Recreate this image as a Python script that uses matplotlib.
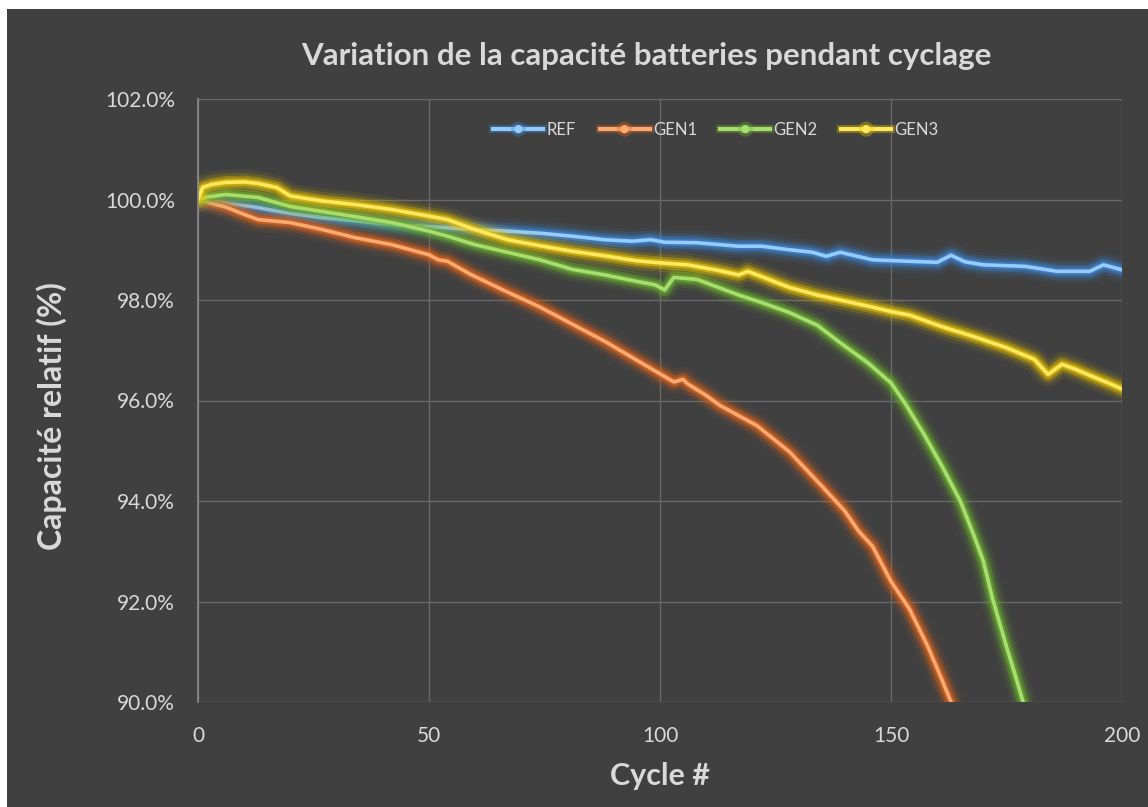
import matplotlib
matplotlib.use('Agg')
import matplotlib.pyplot as plt
import matplotlib.patheffects as pe
from matplotlib.lines import Line2D
from matplotlib.patches import Rectangle

# données (cycle, capacité relative en %)
cyc_ref = [0, 3, 6, 13, 20, 27, 35, 42, 50, 60, 67, 74, 81, 88, 94, 98, 101, 108, 117,
           122, 128, 133, 136, 139, 146, 154, 160, 163, 166, 170, 179, 186, 193, 196, 200]
ref = [100.0, 99.97, 99.93, 99.84, 99.72, 99.64, 99.57, 99.5, 99.46, 99.4, 99.37, 99.33,
       99.27, 99.2, 99.17, 99.2, 99.15, 99.14, 99.07, 99.07, 99.0, 98.95, 98.87, 98.95,
       98.8, 98.77, 98.75, 98.89, 98.76, 98.7, 98.67, 98.57, 98.57, 98.7, 98.6]

cyc_gen1 = [0, 3, 6, 9, 13, 20, 27, 34, 42, 50, 52, 54, 59, 66, 74, 81, 88, 95, 103, 105,
            106, 110, 113, 121, 128, 135, 140, 143, 146, 150, 154, 158, 161, 163]
gen1 = [100.0, 99.92, 99.85, 99.74, 99.6, 99.54, 99.4, 99.24, 99.1, 98.9, 98.8, 98.77,
        98.51, 98.2, 97.86, 97.52, 97.18, 96.8, 96.37, 96.42, 96.33, 96.1, 95.9, 95.5,
        94.98, 94.3, 93.8, 93.4, 93.1, 92.4, 91.85, 91.1, 90.45, 90.0]

cyc_gen2 = [0, 2, 6, 13, 20, 27, 34, 42, 50, 54, 60, 67, 74, 81, 88, 95, 99, 101, 103,
            108, 117, 122, 128, 134, 139, 145, 150, 153, 157, 161, 165, 168, 170, 172,
            175, 177, 178.6]
gen2 = [100.0, 100.05, 100.1, 100.04, 99.86, 99.76, 99.66, 99.54, 99.37, 99.27, 99.1,
        98.95, 98.8, 98.61, 98.5, 98.37, 98.3, 98.2, 98.45, 98.41, 98.1, 97.95, 97.75,
        97.5, 97.15, 96.75, 96.35, 95.95, 95.35, 94.7, 94.0, 93.3, 92.8, 92.05, 91.1,
        90.5, 90.0]

cyc_gen3 = [0, 1, 3, 6, 10, 13, 17, 20, 27, 34, 42, 50, 54, 60, 67, 74, 81, 88, 95, 100,
            106, 112, 117, 119, 121, 128, 134, 139, 145, 150, 154, 161, 168, 175, 181,
            184, 187, 190, 193, 197, 200]
gen3 = [100.0, 100.24, 100.3, 100.34, 100.35, 100.32, 100.24, 100.07, 99.97, 99.9, 99.8,
        99.67, 99.6, 99.4, 99.2, 99.08, 98.97, 98.88, 98.78, 98.74, 98.7, 98.6, 98.5,
        98.57, 98.5, 98.25, 98.1, 98.0, 97.88, 97.77, 97.7, 97.47, 97.27, 97.05, 96.82,
        96.52, 96.72, 96.62, 96.5, 96.35, 96.23]

series_names = ['REF', 'GEN1', 'GEN2', 'GEN3']
x_ticks = [0, 50, 100, 150, 200]
y_ticks = [90, 92, 94, 96, 98, 100, 102]

BG = '#404040'
TXT = '#d9d9d9'
# couleur du trait / couleur du halo
COLORS = [('#94ccff', '#3d86d6'), ('#f9aa72', '#e0641c'),
          ('#a8de70', '#6cb030'), ('#ffe860', '#e8c400')]


def glow(halo):
    # halo doux autour du trait
    return [pe.Stroke(linewidth=18, foreground=halo, alpha=0.08),
            pe.Stroke(linewidth=13, foreground=halo, alpha=0.16),
            pe.Stroke(linewidth=9, foreground=halo, alpha=0.35),
            pe.Stroke(linewidth=5.5, foreground=halo, alpha=0.6),
            pe.Normal()]


def plot_f():
    plt.rcParams['font.family'] = ['Lato', 'DejaVu Sans']
    fig = plt.figure(figsize=(11.48, 8.07), dpi=100, facecolor='white')
    # fond sombre (bord blanc en haut et à gauche)
    fig.patches.append(Rectangle((7 / 1148, 0), 1141 / 1148, 1 - 9 / 807,
                                 transform=fig.transFigure, facecolor=BG,
                                 edgecolor='none', zorder=-10))

    ax = fig.add_axes([198 / 1148, 1 - 702 / 807, 924 / 1148, 603 / 807])
    ax.set_facecolor('none')

    data = [(cyc_ref, ref), (cyc_gen1, gen1), (cyc_gen2, gen2), (cyc_gen3, gen3)]
    for (x, y), name, (col, halo) in zip(data, series_names, COLORS):
        ax.plot(x, y, color=col, lw=2.6, solid_joinstyle='round', solid_capstyle='round',
                path_effects=glow(halo), label=name)

    ax.set_xlim(0, 200)
    ax.set_ylim(90, 102)
    ax.set_xticks(x_ticks)
    ax.set_yticks(y_ticks)
    ax.set_yticklabels(['%.1f%%' % v for v in y_ticks])
    ax.tick_params(length=0, colors=TXT, labelsize=15)
    ax.tick_params(axis='y', pad=16.5)
    ax.tick_params(axis='x', pad=17)
    ax.grid(True, color='#686868', lw=1)
    for s in ['top', 'right', 'bottom']:
        ax.spines[s].set_visible(False)
    ax.spines['left'].set_color('#8c8c8c')
    ax.spines['left'].set_linewidth(1.2)

    # légende avec petit marqueur
    handles = [Line2D([0], [0], color=c, lw=3, marker='o', markersize=5,
                      path_effects=[pe.Stroke(linewidth=6, foreground=h, alpha=0.35), pe.Normal()])
               for c, h in COLORS]
    ax.legend(handles, series_names, loc='center', bbox_to_anchor=(716 / 1148, 1 - 130 / 807),
              bbox_transform=fig.transFigure, ncol=4, frameon=False, fontsize=12,
              labelcolor=TXT, handlelength=3.0, handletextpad=0.2, columnspacing=1.4)

    fig.text(646 / 1148, 1 - 56 / 807, 'Variation de la capacité batteries pendant cyclage',
             ha='center', va='center', color=TXT, fontsize=22.5, fontweight='bold')
    fig.text(52 / 1148, 1 - 416 / 807, 'Capacité relatif (%)', rotation=90,
             ha='center', va='center', color=TXT, fontsize=23, fontweight='bold')
    fig.text(660 / 1148, 1 - 776 / 807, 'Cycle #', ha='center', va='center',
             color=TXT, fontsize=22, fontweight='bold')

    fig.savefig('out.png', dpi=100, facecolor='white')


if __name__ == '__main__':
    plot_f()
